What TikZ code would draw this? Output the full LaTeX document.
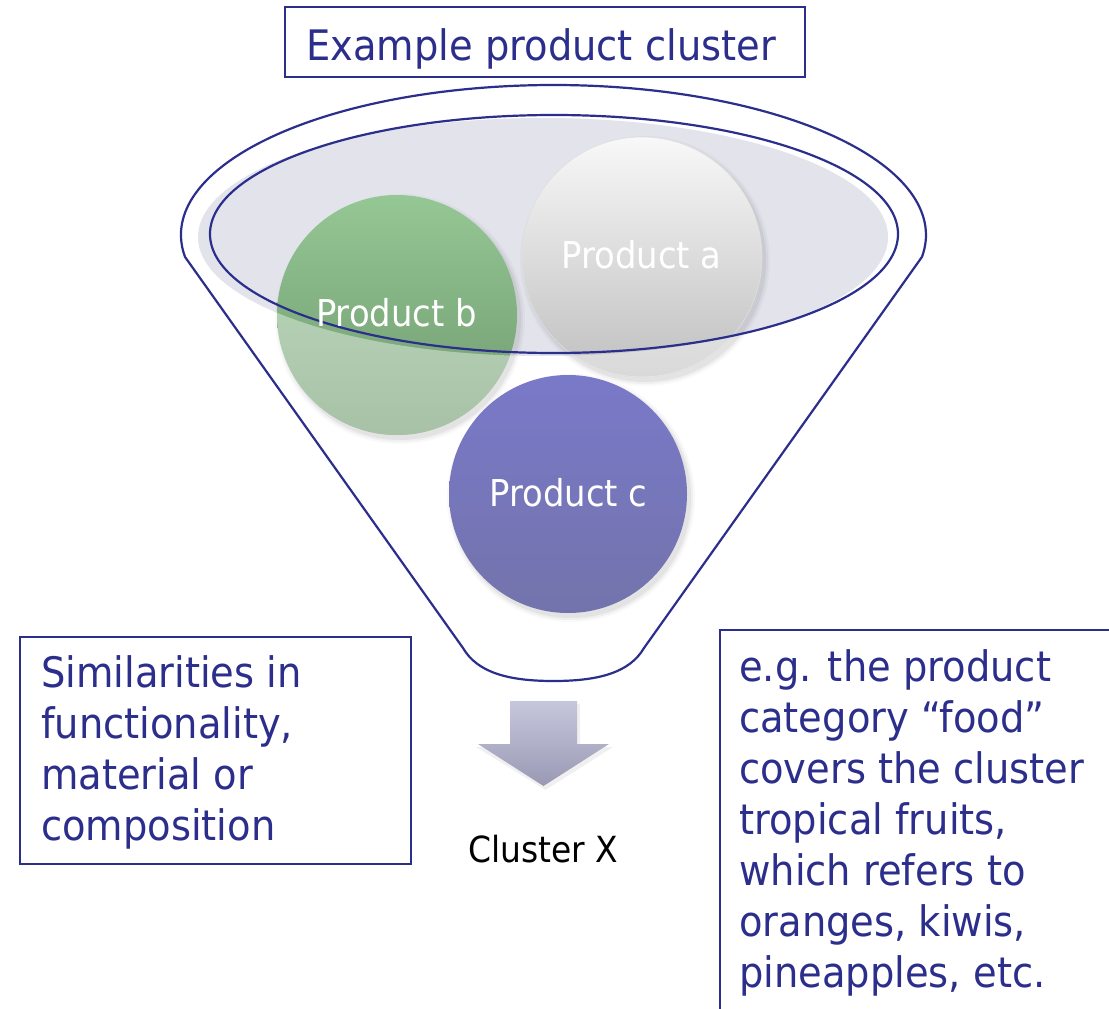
\documentclass[tikz,border=0pt]{standalone}
\usepackage{fontspec}
\setmainfont[FakeStretch=0.915]{DejaVu Sans}
\definecolor{navy}{RGB}{44,46,140}
\definecolor{lav}{RGB}{227,227,236}
\definecolor{gbtop}{RGB}{149,199,148}
\definecolor{gbbot}{RGB}{110,153,110}
\definecolor{gatop}{RGB}{248,248,248}
\definecolor{gabot}{RGB}{192,192,192}
\definecolor{gctop}{RGB}{121,121,201}
\definecolor{gcbot}{RGB}{115,115,172}
\definecolor{artop}{RGB}{198,199,221}
\definecolor{arbot}{RGB}{154,153,180}
\begin{document}
\begin{tikzpicture}[x=1pt,y=-1pt,
  navyline/.style={draw=navy, line width=2.2pt},
  boxline/.style={draw=navy, line width=2.2pt, inner sep=0pt},
  bigtxt/.style={font=\fontsize{42}{51}\selectfont, text=navy, inner sep=0pt, anchor=base west, align=left},
  prodtxt/.style={font=\fontsize{37}{44}\selectfont, text=white, inner sep=0pt, anchor=base},
  prod/.style={circle, minimum size=240pt, inner sep=0pt}]
\useasboundingbox (0,0) rectangle (1109,1009);
\fill[white] (0,0) rectangle (1109,1009);
% lavender disc of the funnel mouth
\fill[lav] (543,237) ellipse [x radius=345, y radius=119];
% soft shadows
\foreach \r/\o in {125/0.025,123/0.035,121/0.05}{
  \fill[black, opacity=\o] (400,319) circle [radius=\r];
  \fill[black, opacity=\o] (645,261) circle [radius=\r];
}
% products a and b
\node[prod, top color=gbtop, bottom color=gbbot] (pb) at (397,315) {};
\node[prod, top color=gatop, bottom color=gabot, draw=black!12, line width=0.6pt] (pa) at (642,257) {};
\begin{scope}
  \clip (397,315) circle [radius=120] (642,257) circle [radius=120];
  \fill[white, opacity=.4, even odd rule] (0,0) rectangle (1109,1009) (543,237) ellipse [x radius=345, y radius=119];
\end{scope}
% inner rim
\draw[navyline] (554,234) ellipse [x radius=344, y radius=119];
% funnel outline
\draw[navyline, line join=round] (185,256.9) arc[start angle=171.6, end angle=368.4, x radius=372.5, y radius=150]
  -- (644,648) .. controls (630,672) and (600,681) .. (553.5,681)
  .. controls (507,681) and (477,672) .. (463,648) -- cycle;
% product c
\foreach \r/\o in {124/0.025,122/0.035,120/0.05}{
  \fill[black, opacity=\o] (571,498) circle [radius=\r];
}
\node[prod, minimum size=238pt, top color=gctop, bottom color=gcbot] (pc) at (568,494) {};
% labels
\node[prodtxt] (la) at (641.5,268) {Product a};
\node[prodtxt] (lb) at (396.5,326) {Product b};
\node[prodtxt] (lc) at (568.5,506) {Product c};
% title
\node[boxline, minimum width=520pt, minimum height=70pt] (title) at (545,42) {};
\node[bigtxt] (titletxt) at (306,60) {Example product cluster};
% arrow
\fill[black, opacity=.06] (512,704) -- (580,704) -- (580,747) -- (613,747) -- (545.5,790) -- (476,747) -- (512,747) -- cycle;
\shade[top color=artop, bottom color=arbot] (510,701) -- (577,701) -- (577,744) -- (609,744) -- (543.5,786) -- (478,744) -- (510,744) -- cycle;
\node[font=\fontsize{36}{44}\selectfont, text=black, inner sep=0pt, anchor=base] (cx) at (543.5,862) {Cluster X};
% left box
\node[boxline, minimum width=391pt, minimum height=227pt, anchor=north west] (lbox) at (19,636) {};
\node[bigtxt] (ltxt) at (41,840) {Similarities in\\functionality,\\material or\\composition};
% right box
\node[boxline, minimum width=420pt, minimum height=420pt, anchor=north west] (rbox) at (719,629) {};
\node[bigtxt] (rtxt) at (739,987) {e.g. the product\\category “food”\\covers the cluster\\tropical fruits,\\which refers to\\oranges, kiwis,\\pineapples, etc.};
\end{tikzpicture}
\end{document}
